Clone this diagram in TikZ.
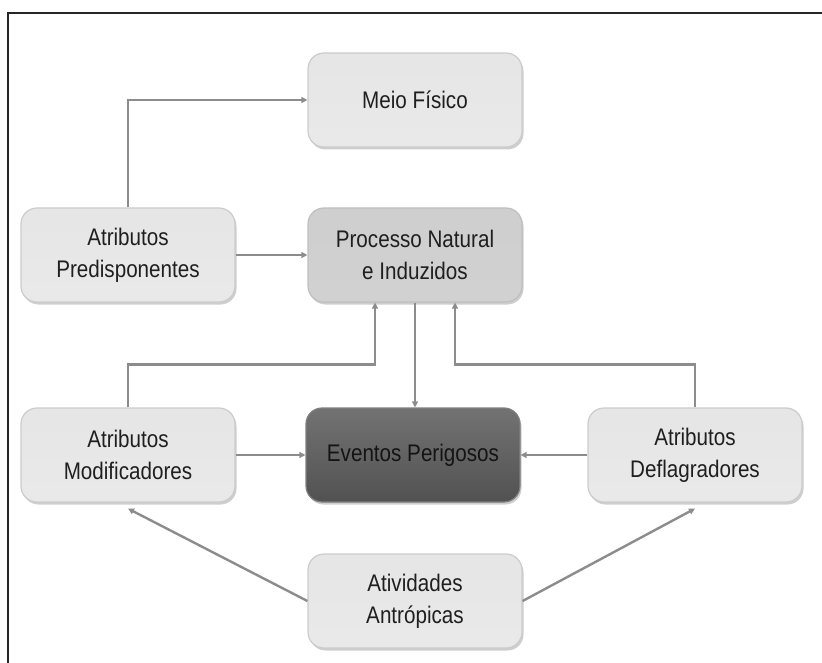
\documentclass[tikz,border=0pt]{standalone}
\usepackage{fontspec}
\setmainfont[FakeStretch=0.86]{Liberation Sans}
\usetikzlibrary{arrows.meta,shadows,calc}
\begin{document}
\begin{tikzpicture}[x=1pt,y=-1pt,
  box/.style={rounded corners=16pt, minimum width=214pt, minimum height=94pt, inner sep=0pt,
    align=center, font=\fontsize{24}{32}\selectfont, text=black!88,
    draw=gray!40, line width=1.2pt,
    top color=gray!20, middle color=gray!32, bottom color=gray!17,
    drop shadow={shadow xshift=1.5pt, shadow yshift=-2.5pt, fill=gray!70, opacity=0.55}},
  midbox/.style={box, top color=gray!38, middle color=gray!46, bottom color=gray!36, draw=gray!50},
  darkbox/.style={box, top color=black!55, middle color=black!62, bottom color=black!68, draw=black!50, text=black!92},
  conn/.style={draw=black!45, line width=2.4pt, -{Triangle[length=6pt,width=6pt]}}]
\useasboundingbox (0,0) rectangle (822,663);
\draw[black!85, line width=1.6pt] (8,663) -- (8,13) -- (822,13);
\node[box] (meio) at (415,100) {Meio Físico};
\node[box] (pre) at (128,255) {Atributos\\Predisponentes};
\node[midbox] (proc) at (415,255) {Processo Natural\\e Induzidos};
\node[box] (mod) at (128,455) {Atributos\\Modificadores};
\node[darkbox] (evt) at (413,455) {Eventos Perigosos};
\node[box] (def) at (695,455) {Atributos\\Deflagradores};
\node[box] (atv) at (415,601) {Atividades\\Antrópicas};
\draw[conn] (pre.north) |- (meio.west);
\draw[conn] (pre.east) -- (proc.west);
\draw[conn] (mod.north) -- ++(0,-43) -| ([xshift=-40pt]proc.south);
\draw[conn] (def.north) -- ++(0,-43) -| ([xshift=40pt]proc.south);
\draw[conn] (proc.south) -- (proc.south |- evt.north);
\draw[conn] (mod.east) -- (evt.west);
\draw[conn] (def.west) -- (evt.east);
\draw[conn] (atv.west) -- ([yshift=-6pt]mod.south);
\draw[conn] (atv.east) -- ([yshift=-6pt]def.south);
\end{tikzpicture}
\end{document}
